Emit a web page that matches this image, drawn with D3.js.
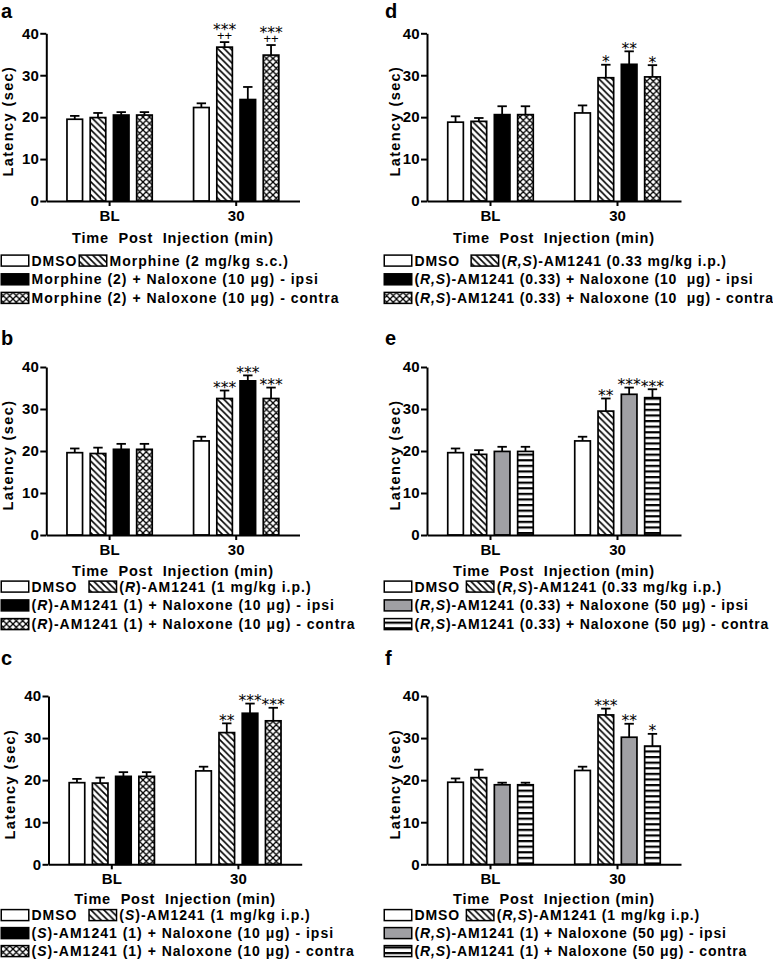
<!DOCTYPE html>
<html><head><meta charset="utf-8">
<script src="https://cdn.jsdelivr.net/npm/d3@7"></script>
<style>
body{margin:0;background:#fff}
svg{display:block}
text{font-family:"Liberation Sans",Arial,Helvetica,sans-serif;white-space:pre}
</style>
</head><body>
<svg id="chart" width="773" height="968"></svg>
<script>
// ---------- data ----------
const groups = ["BL", "30"];
const yTickValues = [0, 10, 20, 30, 40];
const yLabel = "Latency (sec)";
const xLabel = "Time  Post  Injection (min)";

const aBL = [19.5, 19.9, 20.5, 20.5], aBLerr = [0.8, 1.1, 0.7, 0.7];
const a30 = [22.3, 36.7, 24.2, 34.8], a30err = [1.0, 1.2, 3.0, 2.4];
const aSig = ["", "***\n++", "", "***\n++"];
const aLegend = ["DMSO", "Morphine (2 mg/kg s.c.)", "Morphine (2) + Naloxone (10 μg) - ipsi", "Morphine (2) + Naloxone (10 μg) - contra"];

const bBL = [19.6, 19.4, 20.4, 20.4], bBLerr = [1.0, 1.4, 1.3, 1.3];
const b30 = [22.4, 32.5, 36.7, 32.5], b30err = [1.0, 1.9, 1.3, 2.6];
const bSig = ["", "***", "***", "***"];
const bLegend = ["DMSO  ", "(_R_)-AM1241 (1 mg/kg i.p.)", "(_R_)-AM1241 (1) + Naloxone (10 μg) - ipsi", "(_R_)-AM1241 (1) + Naloxone (10 μg) - contra"];

const cBL = [19.4, 19.3, 20.9, 20.9], cBLerr = [0.9, 1.3, 1.0, 1.0];
const c30 = [22.2, 31.3, 35.9, 34.1], c30err = [1.0, 2.2, 2.3, 3.1];
const cSig = ["", "**", "***", "***"];
const cLegend = ["DMSO  ", "(_S_)-AM1241 (1 mg/kg i.p.)", "(_S_)-AM1241 (1) + Naloxone (10 μg) - ipsi", "(_S_)-AM1241 (1) + Naloxone (10 μg) - contra"];

const dBL = [18.8, 19.0, 20.6, 20.6], dBLerr = [1.4, 0.8, 2.0, 2.0];
const d30 = [21.0, 29.4, 32.6, 29.6], d30err = [1.8, 3.1, 3.1, 2.8];
const dSig = ["", "*", "**", "*"];
const dLegend = ["DMSO  ", "(_R,S_)-AM1241 (0.33 mg/kg i.p.)", "(_R,S_)-AM1241 (0.33) + Naloxone (10  μg) - ipsi", "(_R,S_)-AM1241 (0.33) + Naloxone (10  μg) - contra"];

const eBL = [19.6, 19.2, 19.9, 19.9], eBLerr = [1.0, 1.0, 1.1, 1.1];
const e30 = [22.4, 29.5, 33.5, 32.7], e30err = [1.0, 3.0, 1.6, 2.0];
const eSig = ["", "**", "***", "***"];
const eLegend = ["DMSO ", "(_R,S_)-AM1241 (0.33 mg/kg i.p.)", "(_R,S_)-AM1241 (0.33) + Naloxone (50 μg) - ipsi", "(_R,S_)-AM1241 (0.33) + Naloxone (50 μg) - contra"];

const fBL = [19.5, 20.6, 18.9, 18.9], fBLerr = [0.9, 1.9, 0.5, 0.5];
const f30 = [22.3, 35.5, 30.2, 28.1], f30err = [0.9, 1.5, 3.2, 2.9];
const fSig = ["", "***", "**", "*"];
const fLegend = ["DMSO ", "(_R,S_)-AM1241 (1 mg/kg i.p.)", "(_R,S_)-AM1241 (1) + Naloxone (50 μg) - ipsi", "(_R,S_)-AM1241 (1) + Naloxone (50 μg) - contra"];

// ---------- layout / style ----------
const svg = d3.select("#chart");
const defs = svg.append("defs");
const pd = defs.append("pattern").attr("id","diag").attr("patternUnits","userSpaceOnUse").attr("width",6.5).attr("height",6.5);
pd.append("rect").attr("width",6.5).attr("height",6.5).attr("fill","#fff");
pd.append("path").attr("d","M-1,-1L7.5,7.5M-1,5.5L1,7.5M5.5,-1L7.5,1").attr("stroke","#000").attr("stroke-width",1.6);
const pc = defs.append("pattern").attr("id","cross").attr("patternUnits","userSpaceOnUse").attr("width",6.5).attr("height",6.5);
pc.append("rect").attr("width",6.5).attr("height",6.5).attr("fill","#fff");
pc.append("path").attr("d","M-1,-1L7.5,7.5M-1,5.5L1,7.5M5.5,-1L7.5,1M-1,7.5L7.5,-1M-1,1L1,-1M5.5,7.5L7.5,5.5").attr("stroke","#000").attr("stroke-width",1.3);
const ph = defs.append("pattern").attr("id","hstripe").attr("patternUnits","userSpaceOnUse").attr("width",6).attr("height",5.6);
ph.append("rect").attr("width",6).attr("height",5.6).attr("fill","#fff");
ph.append("rect").attr("y",0).attr("width",6).attr("height",2.2).attr("fill","#000");

const fillsBW = ["#fff", "url(#diag)", "#000", "url(#cross)"];
const fillsGray = ["#fff", "url(#diag)", "#a0a0a4", "url(#hstripe)"];

const cols = [
  {x0: 46.3, x1: 299.5, letterX: 1, ylabX: 12.8, legX: 0.5, ls: 1.0},
  {x0: 427, x1: 681, letterX: 385, ylabX: 399.5, legX: 383.5, ls: 0.85}
];
const rows = [
  {y0: 201, y40: 33.3, letterY: 18.3, titleDy: 41.6, leg: [265.5, 284.2, 302.8]},
  {y0: 535, y40: 367, letterY: 345, titleDy: 40.6, leg: [591.5, 610.3, 629]},
  {y0: 864.3, y40: 696, letterY: 665, titleDy: 39.8, leg: [920, 938, 956]}
];

const panels = [
  {id:"a", col:0, row:0, dx:0, bl:aBL, blE:aBLerr, m30:a30, e30:a30err, sig:aSig, legend:aLegend, fills:fillsBW},
  {id:"b", col:0, row:1, dx:0, bl:bBL, blE:bBLerr, m30:b30, e30:b30err, sig:bSig, legend:bLegend, fills:fillsBW},
  {id:"c", col:0, row:2, dx:2.2, bl:cBL, blE:cBLerr, m30:c30, e30:c30err, sig:cSig, legend:cLegend, fills:fillsBW},
  {id:"d", col:1, row:0, dx:0, bl:dBL, blE:dBLerr, m30:d30, e30:d30err, sig:dSig, legend:dLegend, fills:fillsBW},
  {id:"e", col:1, row:1, dx:0, bl:eBL, blE:eBLerr, m30:e30, e30:e30err, sig:eSig, legend:eLegend, fills:fillsGray},
  {id:"f", col:1, row:2, dx:0, bl:fBL, blE:fBLerr, m30:f30, e30:f30err, sig:fSig, legend:fLegend, fills:fillsGray}
];

function richText(g, x, y, str, ls) {
  const t = g.append("text").attr("x", x).attr("y", y)
    .attr("font-size", 14).attr("font-weight", "bold").attr("letter-spacing", ls);
  str.split("_").forEach((s, i) => {
    if (s) t.append("tspan").text(s).attr("font-style", i % 2 ? "italic" : null);
  });
  return t;
}

function swatch(g, x, y, fill) {
  g.append("rect").attr("x", x + 0.75).attr("y", y - 10.4).attr("width", 27.5).attr("height", 11)
    .attr("fill", fill).attr("stroke", "#000").attr("stroke-width", 1.5);
}

panels.forEach(p => {
  const C = cols[p.col], R = rows[p.row];
  const g = svg.append("g");
  const x0 = C.x0 + p.dx, x1 = C.x1 + p.dx;

  const xg = d3.scaleBand().domain(groups).range([x0, x1]).padding(0);
  const xb = d3.scaleBand().domain([0,1,2,3]).range([0, xg.bandwidth()]).paddingInner(0.33).paddingOuter(0.89);
  const y = d3.scaleLinear().domain([0, 40]).range([R.y0, R.y40]);

  const series = [{g: "BL", m: p.bl, e: p.blE, s: ["","","",""]}, {g: "30", m: p.m30, e: p.e30, s: p.sig}];
  series.forEach(S => {
    S.m.forEach((v, i) => {
      const bx = xg(S.g) + xb(i);
      const bw = xb.bandwidth();
      const cx = bx + bw / 2;
      const yt = y(v + S.e[i]);
      g.append("line").attr("x1", cx).attr("x2", cx).attr("y1", y(v)).attr("y2", yt)
        .attr("stroke", "#000").attr("stroke-width", 1.8);
      g.append("line").attr("x1", cx - 4.7).attr("x2", cx + 4.7).attr("y1", yt).attr("y2", yt)
        .attr("stroke", "#000").attr("stroke-width", 1.8);
      g.append("rect").attr("x", bx).attr("y", y(v)).attr("width", bw).attr("height", y(0) - y(v))
        .attr("fill", p.fills[i]).attr("stroke", "#000").attr("stroke-width", 1.7);
      const sig = S.s[i];
      if (sig) {
        const lines = sig.split("\n");
        const t = g.append("text").attr("text-anchor", "middle");
        if (lines.length === 2) {
          const pb = yt - 2.5;
          t.append("tspan").attr("x", cx).attr("y", pb - 5)
            .attr("font-family", "DejaVu Sans").attr("font-size", 15.5).text(lines[0]);
          t.append("tspan").attr("x", cx).attr("y", pb).attr("font-size", 13).text(lines[1]);
        } else {
          t.append("tspan").attr("x", cx).attr("y", yt + 2.5)
            .attr("font-family", "DejaVu Sans").attr("font-size", 15.5).text(lines[0]);
        }
      }
    });
  });

  const ya = g.append("g").attr("transform", `translate(${x0},0)`)
    .call(d3.axisLeft(y).tickValues(yTickValues).tickSize(6).tickSizeOuter(0).tickPadding(1.5).tickFormat(d3.format("d")));
  const xa = g.append("g").attr("transform", `translate(0,${R.y0})`)
    .call(d3.axisBottom(xg).tickSize(5).tickSizeOuter(0).tickPadding(4));
  [ya, xa].forEach(a => {
    a.select(".domain").attr("stroke-width", 2).attr("stroke", "#000");
    a.selectAll(".tick line").attr("stroke-width", 2).attr("stroke", "#000");
    a.selectAll(".tick text").attr("font-family", "Liberation Sans, Arial, sans-serif")
      .attr("font-size", 15).attr("font-weight", "bold").attr("fill", "#000");
  });

  g.append("text").attr("transform", `translate(${C.ylabX + p.dx},${(R.y0 + R.y40) / 2 + 4}) rotate(-90)`)
    .attr("text-anchor", "middle").attr("font-size", 14.5).attr("font-weight", "bold")
    .attr("letter-spacing", 1.4).text(yLabel);
  g.append("text").attr("x", (x0 + x1) / 2).attr("y", R.y0 + R.titleDy).attr("text-anchor", "middle")
    .attr("font-size", 14.5).attr("font-weight", "bold").attr("letter-spacing", 0.8).text(xLabel);
  g.append("text").attr("x", C.letterX).attr("y", R.letterY)
    .attr("font-size", 20).attr("font-weight", "bold").text(p.id);

  const lx = C.legX;
  swatch(g, lx, R.leg[0], p.fills[0]);
  const t1 = richText(g, lx + 31, R.leg[0], p.legend[0], C.ls);
  const w1 = t1.node().getComputedTextLength();
  const lx2 = lx + 31 + w1 + 1;
  swatch(g, lx2, R.leg[0], p.fills[1]);
  richText(g, lx2 + 31, R.leg[0], p.legend[1], C.ls);
  swatch(g, lx, R.leg[1], p.fills[2]);
  richText(g, lx + 31, R.leg[1], p.legend[2], C.ls);
  swatch(g, lx, R.leg[2], p.fills[3]);
  richText(g, lx + 31, R.leg[2], p.legend[3], C.ls);
});
</script>
</body></html>
